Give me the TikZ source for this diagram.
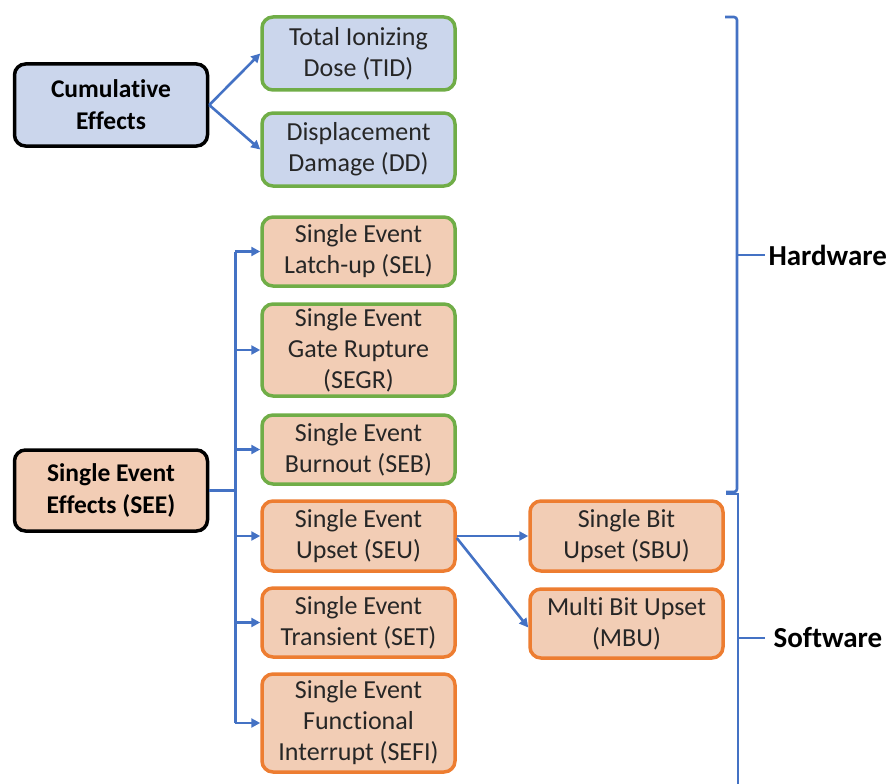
\documentclass[tikz,border=0pt]{standalone}
\usepackage{fontspec}
\setmainfont[Ligatures=NoCommon]{Carlito}
\usetikzlibrary{arrows.meta}
\definecolor{bfill}{HTML}{CBD6EC}
\definecolor{pfill}{HTML}{F2CDB5}
\definecolor{gborder}{HTML}{70AD47}
\definecolor{oborder}{HTML}{ED7D31}
\definecolor{lblue}{HTML}{4472C4}
\tikzset{
  box/.style={draw, rounded corners=11pt, line width=3.5pt, align=center,
    minimum width=193pt, inner sep=1pt, font=\fontsize{26}{31}\selectfont, text=black!85},
  bluebox/.style={box, fill=bfill, draw=gborder},
  greenbox/.style={box, fill=pfill, draw=gborder},
  orangebox/.style={box, fill=pfill, draw=oborder},
  rootbox/.style={box, draw=black, font=\bfseries\fontsize{25.5}{32}\selectfont, text=black},
  arr/.style={draw=lblue, line width=2.6pt, -{Triangle[length=9pt,width=9pt]}},
  conn/.style={draw=lblue, line width=2.6pt},
  brk/.style={draw=lblue, line width=2.6pt},
  side/.style={font=\bfseries\fontsize{29}{32}\selectfont, anchor=west}
}
\begin{document}
\begin{tikzpicture}[x=1pt,y=-1pt]
\useasboundingbox (0,0) rectangle (892,784);
% cumulative
\node[rootbox, fill=bfill, minimum height=82pt] (cum) at (111,105) {Cumulative\\Effects};
\node[bluebox, minimum height=73pt] (tid) at (358.5,53.5) {Total Ionizing\\Dose (TID)};
\node[bluebox, minimum height=73pt] (dd) at (358.5,149.5) {Displacement\\Damage (DD)};
% single event
\node[rootbox, fill=pfill, minimum height=81pt] (see) at (111,490.5) {Single Event\\Effects (SEE)};
\node[greenbox, minimum height=69pt] (sel) at (358.5,251.5) {Single Event\\Latch-up (SEL)};
\node[greenbox, minimum height=92pt] (segr) at (358.5,350) {Single Event\\Gate Rupture\\(SEGR)};
\node[greenbox, minimum height=69pt] (seb) at (358.5,449.5) {Single Event\\Burnout (SEB)};
\node[orangebox, minimum height=70pt] (seu) at (358.5,536) {Single Event\\Upset (SEU)};
\node[orangebox, minimum height=69pt] (set) at (358.5,622.5) {Single Event\\Transient (SET)};
\node[orangebox, minimum height=98pt] (sefi) at (358.5,723) {Single Event\\Functional\\Interrupt (SEFI)};
\node[orangebox, minimum height=70pt] (sbu) at (626.5,536) {Single Bit\\Upset (SBU)};
\node[orangebox, minimum height=69pt] (mbu) at (626.5,623.5) {Multi Bit Upset\\(MBU)};
% connectors
\draw[arr] (cum.east) -- (tid.west);
\draw[arr] (cum.east) -- (dd.west);
\draw[conn] (see.east) -- ++(26,0) coordinate (j);
\draw[conn] (j |- sel.west) -- (j |- sefi.west);
\foreach \t in {sel,segr,seb,seu,set,sefi}
  \draw[arr] (j |- \t.west) -- (\t.west);
\draw[arr] (seu.east) -- (sbu.west);
\draw[arr] ([yshift=-2pt]seu.east) -- ([yshift=-4pt]mbu.west);
% brackets
\coordinate (h1) at (725,17);
\coordinate (h2) at (737,19);
\coordinate (hm) at (737,255);
\coordinate (h3) at (737,492);
\coordinate (h4) at (726,492);
\coordinate (s1) at (738,494);
\coordinate (sm) at (738,638);
\coordinate (s2) at (738,784);
\draw[brk, rounded corners=3pt] (h1) -- (h2 |- h1) -- (h3) -- (h4);
\draw[brk] (h4 |- s1) -- (s1) -- (s2);
\draw[brk] (hm) -- ++(28,0) coordinate (ht);
\draw[brk] (sm) -- ++(27,0) coordinate (st);
\node[side] (hw) at ([xshift=0pt]ht) {Hardware};
\node[side] (sw) at ([xshift=5pt]st) {Software};
\end{tikzpicture}
\end{document}
